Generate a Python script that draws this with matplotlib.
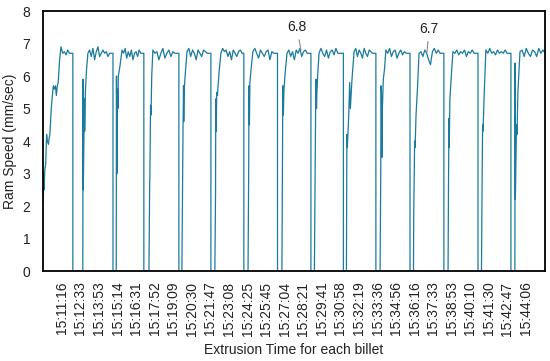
import numpy as np
import matplotlib
matplotlib.use('Agg')
import matplotlib.pyplot as plt

plt.rcParams['font.family'] = ['Liberation Sans', 'DejaVu Sans']

# x axis = sample number, a time label every 80 samples
tick_labels = ['15:11:16', '15:12:33', '15:13:53', '15:15:14', '15:16:31', '15:17:52',
               '15:19:09', '15:20:30', '15:21:47', '15:23:08', '15:24:25', '15:25:45',
               '15:27:04', '15:28:21', '15:29:41', '15:30:58', '15:32:19', '15:33:36',
               '15:34:56', '15:36:16', '15:37:33', '15:38:53', '15:40:10', '15:41:30',
               '15:42:47', '15:44:06']
samples_per_label = 80
x_first, x_last = -82, 2082

# ramp of each billet (sample, speed) up to the start of steady extrusion
ramp_t = [
    [-82, -80, -78, -77, -74, -70, -66, -63, -58, -55, -52, -46, -40, -37, -33, -28, -24, -20, -16, -10],
    [90, 91, 92, 95, 97, 98, 101, 106],
    [234, 235, 237, 239, 240, 241, 243, 250],
    [375, 378, 379, 381, 382, 384, 387],
    [517, 522, 524, 525, 527, 532],
    [659, 662, 663, 665, 667, 670, 677],
    [802, 805, 806, 808, 810, 815],
    [948, 950, 952, 954, 957, 962],
    [1088, 1093, 1095, 1097, 1099, 1102],
    [1226, 1228, 1230, 1236, 1240, 1243, 1250],
    [1371, 1374, 1375, 1377, 1379, 1381, 1385, 1390],
    [1515, 1516, 1518, 1520, 1522, 1526, 1532],
    [1664, 1666, 1668, 1669, 1672, 1678],
    [1808, 1809, 1811, 1813, 1814, 1816, 1820],
    [1952, 1953, 1954, 1957, 1959, 1961, 1965],
]
ramp_v = [
    [2.1, 2.3, 3.0, 2.5, 3.1, 3.3, 4.2, 4.0, 3.9, 4.1, 4.2, 5.0, 5.5, 5.7, 5.6, 5.7, 5.4, 5.7, 5.8, 6.5],
    [0, 5.9, 2.5, 4.2, 5.3, 4.3, 5.5, 6.2],
    [0, 6.0, 3.0, 4.8, 5.6, 5.0, 6.0, 6.3],
    [0, 2.6, 2.9, 4.6, 5.1, 4.8, 6.0],
    [0, 4.5, 5.7, 4.6, 5.6, 6.1],
    [0, 2.4, 5.3, 4.3, 5.5, 5.4, 6.1],
    [0, 3.3, 5.7, 4.5, 5.8, 6.2],
    [0, 3.1, 5.7, 4.8, 5.6, 6.1],
    [0, 4.8, 5.9, 5.0, 5.5, 6.0],
    [0, 4.2, 3.8, 4.8, 5.8, 5.0, 5.9],
    [0, 3.1, 5.7, 5.5, 3.5, 5.0, 5.9, 6.2],
    [0, 1.7, 3.0, 4.0, 3.8, 4.8, 5.6],
    [0, 2.8, 4.7, 3.8, 5.3, 6.0],
    [0, 1.0, 3.0, 4.5, 4.3, 4.6, 5.5],
    [0, 6.4, 2.2, 3.5, 4.5, 4.2, 5.5],
]

# steady extrusion: start, end (drop to zero) and speed readings in between
plateau_start = [-4, 112, 259, 392, 539, 685, 823, 970, 1108, 1259, 1396, 1539, 1685, 1827, 1974]
plateau_end = [47, 220, 353, 504, 642, 784, 929, 1073, 1213, 1353, 1500, 1646, 1793, 1935, x_last]
plateau_v = [
    [6.9, 6.7, 6.75, 6.65, 6.8, 6.7, 6.7, 6.7],
    [6.7, 6.8, 6.6, 6.85, 6.5, 6.75, 6.9, 6.6, 6.7, 6.8, 6.7, 6.75, 6.6, 6.7, 6.7, 6.7],
    [6.8, 6.7, 6.85, 6.55, 6.75, 6.6, 6.8, 6.5, 6.7, 6.75, 6.6, 6.8, 6.7, 6.7, 6.7],
    [6.8, 6.7, 6.75, 6.5, 6.7, 6.85, 6.55, 6.7, 6.8, 6.6, 6.75, 6.7, 6.7, 6.7],
    [6.75, 6.85, 6.6, 6.8, 6.7, 6.5, 6.8, 6.7, 6.6, 6.8, 6.75, 6.7, 6.7, 6.7],
    [6.7, 6.85, 6.75, 6.8, 6.6, 6.75, 6.5, 6.8, 6.7, 6.6, 6.75, 6.8, 6.7, 6.7],
    [6.75, 6.85, 6.7, 6.55, 6.8, 6.7, 6.6, 6.75, 6.8, 6.5, 6.75, 6.7, 6.7, 6.7],
    [6.7, 6.8, 6.6, 6.75, 6.5, 6.8, 6.7, 6.85, 6.6, 6.75, 6.8, 6.7, 6.7, 6.7],
    [6.7, 6.85, 6.7, 6.6, 6.8, 6.55, 6.75, 6.8, 6.65, 6.85, 6.7, 6.7, 6.7, 6.7],
    [6.75, 6.85, 6.6, 6.8, 6.7, 6.55, 6.85, 6.7, 6.6, 6.8, 6.75, 6.7, 6.7, 6.7],
    [6.8, 6.7, 6.85, 6.6, 6.75, 6.8, 6.55, 6.7, 6.8, 6.65, 6.75, 6.7, 6.7, 6.7],
    [6.7, 6.75, 6.6, 6.8, 6.7, 6.5, 6.35, 6.75, 6.85, 6.7, 6.8, 6.7, 6.7, 6.7],
    [6.75, 6.7, 6.8, 6.65, 6.75, 6.7, 6.8, 6.6, 6.75, 6.7, 6.8, 6.7, 6.7, 6.7],
    [6.8, 6.7, 6.85, 6.7, 6.75, 6.65, 6.8, 6.7, 6.75, 6.7, 6.8, 6.7, 6.7, 6.7],
    [6.75, 6.8, 6.6, 6.85, 6.7, 6.6, 6.8, 6.75, 6.6, 6.85, 6.7, 6.8, 6.7],
]

# build the trace billet by billet
t, v = [], []
for i in range(len(plateau_start)):
    t += ramp_t[i]
    v += ramp_v[i]
    pt = np.linspace(plateau_start[i], plateau_end[i], len(plateau_v[i]))
    t += list(pt)
    v += plateau_v[i]
    if i < len(plateau_start) - 1:
        t += [plateau_end[i], ramp_t[i + 1][0]]
        v += [0, 0]

fs = 10
fig = plt.figure(figsize=(5.5, 3.61), dpi=100)
ax = fig.add_axes([0.078, 0.249, 0.913, 0.7205])
ax.plot(t, v, color='#1a7b9c', lw=0.9)

ax.set_xlim(x_first, x_last)
ax.set_ylim(0, 8)
ax.set_yticks(range(0, 9))
ax.set_xticks(np.arange(len(tick_labels)) * samples_per_label)
ax.set_xticklabels(tick_labels, rotation=90)
ax.tick_params(axis='both', length=0, labelsize=fs, colors='#222222')
ax.tick_params(axis='x', pad=7.5)
ax.tick_params(axis='y', pad=9)
for s in ax.spines.values():
    s.set_color('black')
    s.set_linewidth(1.3)

ax.set_ylabel('Ram Speed (mm/sec)', fontsize=fs, color='#222222', labelpad=4)
ax.set_xlabel('Extrusion Time for each billet', fontsize=fs, color='#222222', labelpad=5)

ax.annotate('6.8', xy=(1030, 6.8), xytext=(1013, 7.5), ha='center', va='center',
            fontsize=fs, color='#222222',
            arrowprops=dict(arrowstyle='-', color='#8c8c8c', lw=0.8, shrinkA=2, shrinkB=0))
ax.annotate('6.7', xy=(1573, 6.72), xytext=(1582, 7.45), ha='center', va='center',
            fontsize=fs, color='#222222',
            arrowprops=dict(arrowstyle='-', color='#8c8c8c', lw=0.8, shrinkA=2, shrinkB=0))

fig.savefig('out.png', dpi=100)
